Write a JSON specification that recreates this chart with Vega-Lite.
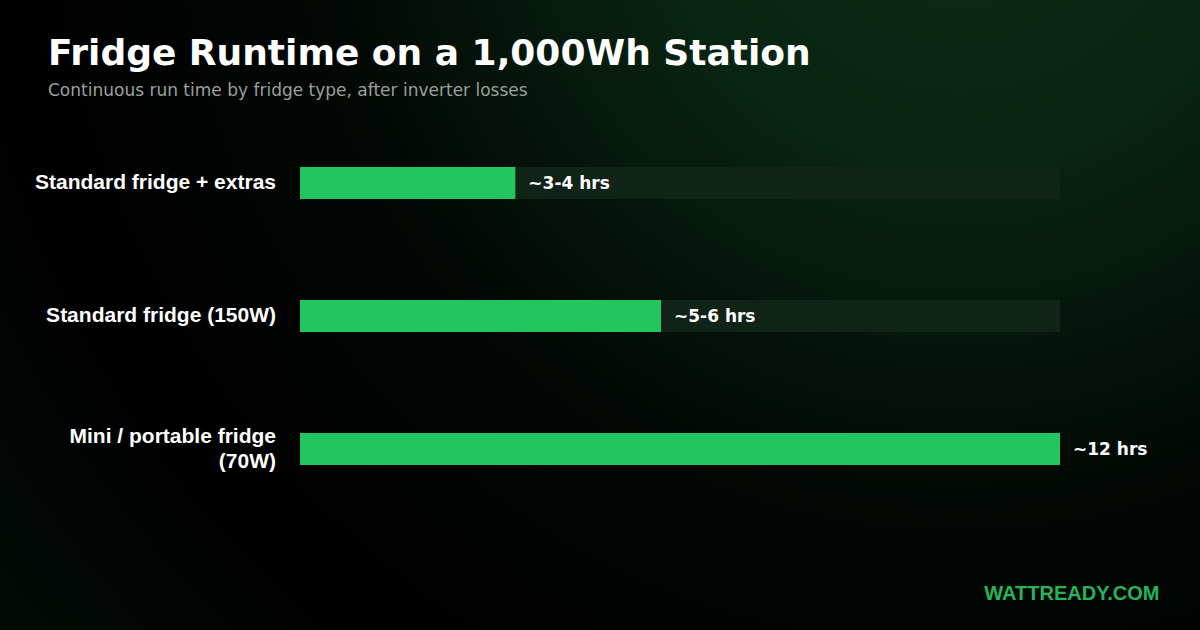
{
  "$schema": "https://vega.github.io/schema/vega-lite/v6.json",
  "width": 1200,
  "height": 630,
  "autosize": {"type": "none"},
  "padding": 0,
  "background": "#000000",
  "config": {
    "view": {
      "stroke": null,
      "fill": {
        "gradient": "radial",
        "x1": 0.8, "y1": 0.12, "r1": 0,
        "x2": 0.8, "y2": 0.12, "r2": 1.3,
        "stops": [
          {"offset": 0, "color": "#0c2e18"},
          {"offset": 0.2, "color": "#082412"},
          {"offset": 0.42, "color": "#020704"},
          {"offset": 0.62, "color": "#000000"},
          {"offset": 0.75, "color": "#020905"},
          {"offset": 1, "color": "#041409"}
        ]
      }
    }
  },
  "title": {
    "text": "Fridge Runtime on a 1,000Wh Station",
    "subtitle": "Continuous run time by fridge type, after inverter losses",
    "anchor": "start",
    "frame": "group",
    "orient": "top",
    "offset": 0,
    "dx": 48,
    "dy": 100,
    "font": "DejaVu Sans",
    "fontSize": 36,
    "fontWeight": "bold",
    "color": "#ffffff",
    "subtitleFont": "DejaVu Sans",
    "subtitleFontSize": 17,
    "subtitleColor": "#9aa09c",
    "subtitlePadding": 10
  },
  "data": {
    "values": [
      {"type": "Standard fridge + extras", "name": ["Standard fridge + extras"], "hours": 3.4, "label": "~3-4 hrs", "order": 1},
      {"type": "Standard fridge (150W)", "name": ["Standard fridge (150W)"], "hours": 5.7, "label": "~5-6 hrs", "order": 2},
      {"type": "Mini / portable fridge (70W)", "name": ["Mini / portable fridge", "(70W)"], "hours": 12, "label": "~12 hrs", "order": 3}
    ]
  },
  "encoding": {
    "y": {
      "field": "type",
      "type": "nominal",
      "sort": {"field": "order", "order": "ascending"},
      "scale": {"range": [34, 598], "paddingInner": 0.7594, "paddingOuter": 1},
      "axis": null
    }
  },
  "layer": [
    {
      "mark": {"type": "bar", "color": "#12261a", "opacity": 0.9, "cornerRadius": 0},
      "encoding": {
        "x": {
          "datum": 0,
          "type": "quantitative",
          "scale": {"domain": [-4.7368, 14.2105], "nice": false, "zero": false},
          "axis": {
            "title": "WATTREADY.COM",
            "domain": false,
            "ticks": false,
            "labels": false,
            "grid": false,
            "titleFont": "Liberation Sans",
            "titleFontSize": 20,
            "titleFontWeight": "bold",
            "titleColor": "#27b35a",
            "titleAnchor": "end",
            "titleAlign": "right",
            "titleBaseline": "alphabetic",
            "titleX": 1159,
            "titleY": -31
          }
        },
        "x2": {"datum": 12}
      }
    },
    {
      "mark": {"type": "bar", "color": "#22c55e"},
      "encoding": {
        "x": {"field": "hours", "type": "quantitative"},
        "x2": {"datum": 0}
      }
    },
    {
      "mark": {"type": "text", "align": "left", "baseline": "middle", "dx": 13, "dy": 1, "font": "DejaVu Sans", "fontSize": 17, "fontWeight": "bold", "color": "#ffffff"},
      "encoding": {
        "x": {"field": "hours", "type": "quantitative"},
        "text": {"field": "label"}
      }
    },
    {
      "transform": [{"filter": "length(datum.name) == 1"}],
      "mark": {"type": "text", "align": "right", "baseline": "middle", "dx": -24, "font": "Liberation Sans", "fontSize": 21, "fontWeight": "bold", "color": "#ffffff", "lineHeight": 25},
      "encoding": {
        "x": {"datum": 0},
        "text": {"field": "name"}
      }
    },
    {
      "transform": [{"filter": "length(datum.name) > 1"}],
      "mark": {"type": "text", "align": "right", "baseline": "middle", "dx": -24, "dy": -12, "font": "Liberation Sans", "fontSize": 21, "fontWeight": "bold", "color": "#ffffff", "lineHeight": 25},
      "encoding": {
        "x": {"datum": 0},
        "text": {"field": "name"}
      }
    }
  ]
}
